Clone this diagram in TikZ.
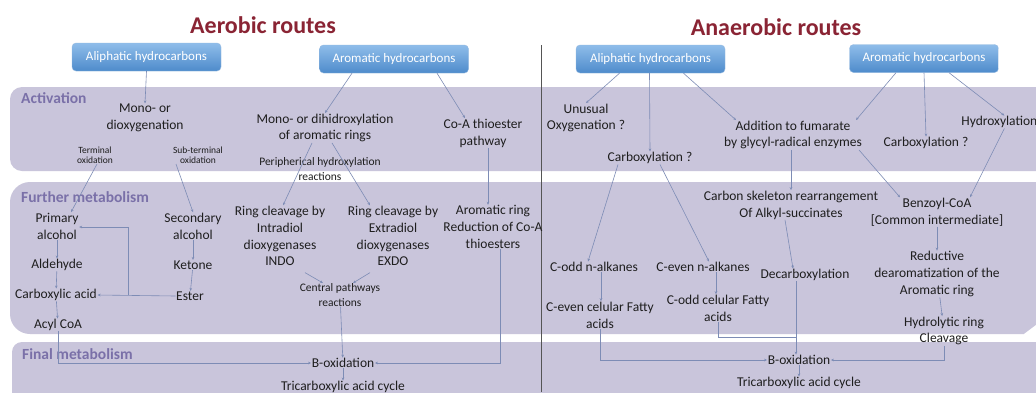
\documentclass[tikz,border=0pt]{standalone}
\usepackage{fontspec}
\setmainfont{Carlito}
\usetikzlibrary{arrows.meta,calc}
\definecolor{bandc}{HTML}{C9C5DB}
\definecolor{labc}{HTML}{7A70A8}
\definecolor{titc}{HTML}{8A2434}
\definecolor{connc}{HTML}{7D8CB5}
\definecolor{txtc}{HTML}{1E1E1E}
\definecolor{boxtop}{HTML}{8FBDEA}
\definecolor{boxbot}{HTML}{4E8BCB}
\definecolor{divc}{HTML}{555555}
\begin{document}
\begin{tikzpicture}[x=1pt,y=-1pt,
  txt/.style={align=center, text=txtc, font=\fontsize{13.5}{16.8}\selectfont, inner sep=0.5pt},
  sml/.style={align=center, text=txtc, font=\fontsize{11.5}{14.5}\selectfont, inner sep=0.5pt},
  smlr/.style={align=center, text=txtc, font=\fontsize{9.5}{10}\selectfont, inner sep=0.5pt},
  hbox/.style={rounded corners=4pt, top color=boxtop, bottom color=boxbot, draw=boxbot!60!white, line width=0.4pt, text=white, font=\fontsize{13}{14}\selectfont, minimum width=149pt, minimum height=28pt, inner sep=0pt},
  ttl/.style={text=titc, font=\fontsize{24}{26}\selectfont\bfseries},
  bandlab/.style={anchor=west, text=labc, font=\fontsize{15.5}{16}\selectfont\bfseries, inner sep=0pt},
  bandfill/.style={fill=bandc},
  conn/.style={draw=connc, line width=0.6pt, -{Stealth[length=3pt,width=2.6pt]}},
  plainconn/.style={draw=connc, line width=0.6pt},
]
\clip (0,0) rectangle (1036,392);
\fill[white] (0,0) rectangle (1036,392);
% bands
\fill[bandfill, rounded corners=12pt] (10,87) rectangle (1060,171);
\fill[bandfill, rounded corners=20pt] (10,182) rectangle (1080,334);
\fill[white] (1024,334) -- (1040,322) -- (1040,342) -- (1024,342) -- cycle;
\fill[bandfill, rounded corners=10pt] (12,342) rectangle (1060,430);
% divider
\draw[divc, line width=0.8pt] (541,45) -- (541,392);
% titles
\node[ttl] (tA) at (263,25) {Aerobic routes};
\node[ttl] (tN) at (776,27) {Anaerobic routes};
% band labels
\node[bandlab] (lAct) at (21,98) {Activation};
\node[bandlab] (lFur) at (21,197) {Further metabolism};
\node[bandlab] (lFin) at (22,354) {Final metabolism};
% boxes
\node[hbox] (bA1) at (146.5,57) {Aliphatic hydrocarbons};
\node[hbox] (bA2) at (394,59) {Aromatic hydrocarbons};
\node[hbox] (bN1) at (650.5,59) {Aliphatic hydrocarbons};
\node[hbox] (bN2) at (924,58.5) {Aromatic hydrocarbons};
% aerobic activation
\node[txt] (monoD) at (145,118) {Mono- or\\dioxygenation};
\node[smlr] (term) at (95,155) {Terminal\\oxidation};
\node[smlr] (subt) at (198,155) {Sub-terminal\\oxidation};
\node[txt] (dihid) at (325,128) {Mono- or\ dihidroxylation\\of aromatic rings};
\node[sml] (periph) at (320,169) {Peripherical hydroxylation\\reactions};
\node[txt] (coa) at (483,133) {Co-A thioester\\pathway};
% aerobic further
\node[txt] (prim) at (57,226) {Primary\\alcohol};
\node[txt] (ald) at (57,265) {Aldehyde};
\node[txt] (carb) at (56,295) {Carboxylic acid};
\node[txt] (acyl) at (58,325) {Acyl CoA};
\node[txt] (sec) at (193,226) {Secondary\\alcohol};
\node[txt] (ket) at (193,265) {Ketone};
\node[txt] (ester) at (190,296) {Ester};
\node[txt] (indo) at (280,236) {Ring cleavage by\\Intradiol\\dioxygenases\\INDO};
\node[txt] (exdo) at (393,236) {Ring cleavage by\\Extradiol\\dioxygenases\\EXDO};
\node[txt] (arred) at (493,227) {Aromatic ring\\Reduction of Co-A\\thioesters};
\node[sml] (central) at (340,295) {Central pathways\\reactions};
% aerobic final
\node[txt] (boxA) at (343,363) {B-oxidation};
\node[txt] (tcaA) at (343,387) {Tricarboxylic acid cycle};
% anaerobic activation
\node[txt] (unus) at (586,118) {Unusual\\Oxygenation ?};
\node[txt] (carbN) at (650,158) {Carboxylation ?};
\node[txt] (addf) at (793,135) {Addition to fumarate\\by glycyl-radical enzymes};
\node[txt] (carbR) at (926,143) {Carboxylation ?};
\node[txt, anchor=east] (hydrox) at (1038,122) {Hydroxylation};
% anaerobic further
\node[txt] (skel) at (791,205) {Carbon skeleton rearrangement\\Of Alkyl-succinates};
\node[txt] (decarb) at (805,275) {Decarboxylation};
\node[txt] (codd) at (594,267) {C-odd n-alkanes};
\node[txt] (ceven) at (703,267) {C-even n-alkanes};
\node[txt] (cevF) at (600,315) {C-even celular Fatty\\acids};
\node[txt] (coddF) at (718,308) {C-odd celular Fatty\\acids};
\node[txt] (benz) at (937,212) {Benzoyl-CoA\\{[}Common intermediate{]}};
\node[txt] (reduct) at (937,274) {Reductive\\dearomatization of the\\Aromatic ring};
\node[txt] (hydrol) at (944,331) {Hydrolytic ring\\Cleavage};
% anaerobic final
\node[txt] (boxN) at (799,360) {B-oxidation};
\node[txt] (tcaN) at (799,383) {Tricarboxylic acid cycle};

% ---- aerobic connectors
\draw[conn] (bA1.south) -- (monoD.north);
\draw[conn] ([xshift=-42pt]bA2.south) -- (dihid.north);
\draw[conn] ([xshift=43pt]bA2.south) -- ([xshift=-18pt]coa.north);
\draw[conn] ([xshift=2pt]term.south) -- ([xshift=14pt]prim.north);
\draw[conn] ([xshift=-22pt]subt.south) -- (sec.north);
\draw[conn] (prim) -- (ald);
\draw[conn] (ald) -- (carb);
\draw[conn] (carb) -- (acyl);
\draw[conn] (sec) -- (ket);
\draw[conn] (ket) -- (ester);
\draw[conn] (ester.west) -- (carb.east);
\draw[conn] ($(carb.east)!0.4!(ester.west)$) |- ([yshift=-1pt]prim.east);
\draw[conn] ([xshift=-13pt]dihid.south) -- ([xshift=3pt]indo.north);
\draw[conn] ([xshift=7pt]dihid.south) -- ([xshift=-23pt]exdo.north);
\draw[conn] ([xshift=5pt]coa.south) -- ([xshift=-5pt]arred.north);
\draw[conn] ([xshift=25pt,yshift=-6pt]indo.south) -- ([xshift=-17pt]central.north);
\draw[conn] ([xshift=-23pt,yshift=-6pt]exdo.south) -- ([xshift=13pt]central.north);
\draw[conn] (central) -- (boxA);
\draw[conn] (acyl.south) |- (boxA.west);
\draw[conn] ([xshift=7pt]arred.south) |- (boxA.east);
\draw[conn] (boxA) -- (tcaA);

% ---- anaerobic connectors
\draw[conn] ([xshift=-31pt]bN1.south) -- (unus.north);
\draw[conn] ([xshift=-1pt]bN1.south) -- (carbN.north);
\draw[conn] ([xshift=33pt]bN1.south) -- ([xshift=-57pt]addf.north);
\draw[conn] ([xshift=-28pt]bN2.south) -- ([xshift=63pt]addf.north);
\draw[conn] (bN2.south) -- (carbR.north);
\draw[conn] ([xshift=25pt]bN2.south) -- ([xshift=5pt]hydrox.north);
\draw[conn] ([xshift=66pt]addf.south) -- ([xshift=-37pt]benz.north);
\draw[conn] ([xshift=5pt]hydrox.south) -- ([xshift=33pt]benz.north);
\draw[conn] ([xshift=-2pt]addf.south) -- (skel.north);
\draw[conn] ([xshift=-6pt]skel.south) -- ([xshift=-12pt]decarb.north);
\draw[conn] ([xshift=-32pt]carbN.south) -- ([xshift=-6pt]codd.north);
\draw[conn] ([xshift=10pt]carbN.south) -- ([xshift=6pt]ceven.north);
\draw[conn] ([xshift=7pt]codd.south) -- ([xshift=1pt]cevF.north);
\draw[conn] ([xshift=13pt]ceven.south) -- ([xshift=-2pt]coddF.north);
\coordinate (jN) at (796,337);
\draw[conn] ([xshift=-9pt]decarb.south) -- ([xshift=-3pt]boxN.north);
\draw[plainconn] (coddF.south) |- (jN);
\draw[conn] (cevF.south) |- (boxN.west);
\draw[conn] (hydrol.south) |- (boxN.east);
\draw[conn] (benz) -- (reduct);
\draw[conn] (reduct) -- (hydrol);
\draw[conn] (boxN) -- (tcaN);
\end{tikzpicture}
\end{document}
